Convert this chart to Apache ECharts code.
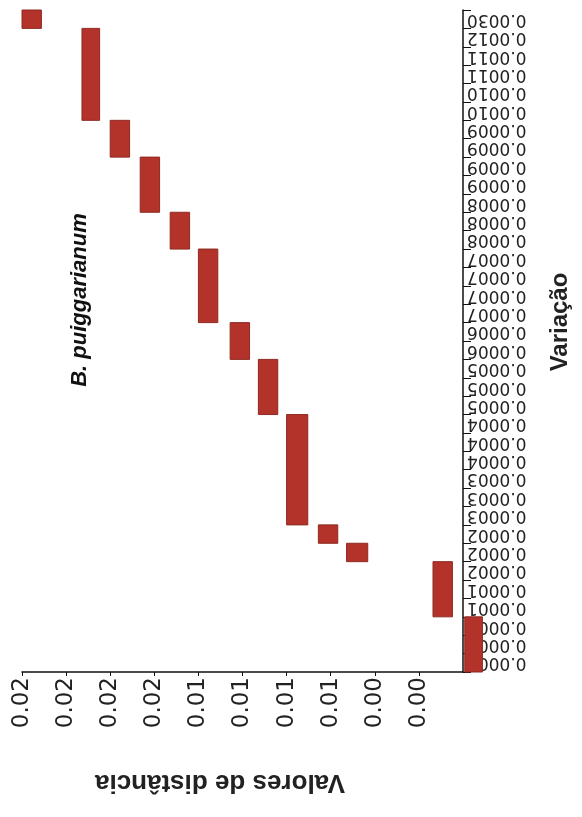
<!DOCTYPE html>
<html>
<head>
<meta charset="utf-8">
<script src="https://cdn.jsdelivr.net/npm/echarts@6/dist/echarts.min.js"></script>
<style>
html,body{margin:0;padding:0;background:#ffffff;}
#chart{width:582px;height:817px;}
</style>
</head>
<body>
<div id="chart"></div>
<script>
// Category axis ("Variação"), bottom to top
const categories = [
  '0.0000','0.0000','0.0001','0.0001','0.0001','0.0002','0.0002','0.0002',
  '0.0003','0.0003','0.0003','0.0004','0.0004','0.0004','0.0005','0.0005',
  '0.0005','0.0006','0.0006','0.0007','0.0007','0.0007','0.0007','0.0008',
  '0.0008','0.0008','0.0009','0.0009','0.0009','0.0009','0.0010','0.0010',
  '0.0011','0.0011','0.0012','0.0030'
];
// Floating bars: first and last category index of each run, and distance range
const segStart = [0, 3, 6, 7, 8, 14, 17, 19, 23, 25, 28, 30, 35];
const segEnd   = [2, 5, 6, 7, 13, 16, 18, 22, 24, 27, 29, 34, 35];
const distLow  = [-0.0011, 0.0006, 0.0054, 0.0071, 0.0088, 0.0105, 0.0121, 0.0139, 0.0155, 0.0172, 0.0189, 0.0206, 0.0239];
const distHigh = [-0.0001, 0.0017, 0.0066, 0.0082, 0.0100, 0.0116, 0.0132, 0.0150, 0.0166, 0.0183, 0.0200, 0.0216, 0.0250];
// Value axis tick labels for ticks 0.0025 ... 0.025
const valueTickLabels = ['0.00','0.00','0.01','0.01','0.01','0.01','0.02','0.02','0.02','0.02'];
const tickStep = 0.0025;

const seriesData = segStart.map((s, i) => [s, segEnd[i], distLow[i], distHigh[i]]);

const chart = echarts.init(document.getElementById('chart'), null, {renderer: 'canvas'});
chart.setOption({
  animation: false,
  backgroundColor: '#ffffff',
  grid: {left: 22, right: 119, top: 10, bottom: 145, containLabel: false, outerBoundsMode: 'none'},
  xAxis: {
    type: 'value',
    inverse: true,
    min: 0,
    max: 0.025,
    interval: tickStep,
    position: 'bottom',
    splitLine: {show: false},
    axisLine: {show: true, lineStyle: {color: '#111', width: 1.5}},
    axisTick: {show: true, length: 4, lineStyle: {color: '#111'}},
    axisLabel: {
      rotate: 90,
      margin: 5,
      showMinLabel: false,
      color: '#222',
      fontFamily: 'DejaVu Sans',
      fontSize: 23,
      formatter: function (v) {
        const k = Math.round(v / tickStep) - 1;
        return k >= 0 && k < valueTickLabels.length ? valueTickLabels[k] : '';
      }
    }
  },
  yAxis: {
    type: 'category',
    data: categories,
    position: 'right',
    boundaryGap: true,
    axisLine: {show: true, lineStyle: {color: '#111', width: 1.5}},
    axisTick: {show: true, length: 8, interval: 0, lineStyle: {color: '#111'}},
    splitLine: {show: false},
    axisLabel: {
      interval: 0,
      rotate: 180,
      margin: 4,
      color: '#222',
      fontFamily: 'DejaVu Sans',
      fontSize: 17
    }
  },
  graphic: [
    {type: 'text', x: 220, y: 782, rotation: Math.PI,
     style: {text: 'Valores de distância', font: 'bold 26px "Liberation Sans", Arial, sans-serif', fill: '#222', textAlign: 'center', textVerticalAlign: 'middle'}},
    {type: 'text', x: 560, y: 322, rotation: Math.PI / 2,
     style: {text: 'Variação', font: 'bold 24px "Liberation Sans", Arial, sans-serif', fill: '#222', textAlign: 'center', textVerticalAlign: 'middle'}},
    {type: 'text', x: 80, y: 300, rotation: Math.PI / 2,
     style: {text: 'B. puiggarianum', font: 'italic bold 22px "Liberation Sans", Arial, sans-serif', fill: '#111', textAlign: 'center', textVerticalAlign: 'middle'}}
  ],
  series: [{
    type: 'custom',
    coordinateSystem: 'cartesian2d',
    encode: {x: [2, 3], y: [0, 1]},
    data: seriesData,
    renderItem: function (params, api) {
      const c0 = api.value(0), c1 = api.value(1);
      const lo = api.value(2), hi = api.value(3);
      const pA = api.coord([lo, c0]);
      const pB = api.coord([hi, c1]);
      const band = api.size([0, 1])[1];
      const x1 = Math.min(pA[0], pB[0]);
      const x2 = Math.max(pA[0], pB[0]);
      const y1 = Math.min(pA[1], pB[1]) - band / 2;
      const y2 = Math.max(pA[1], pB[1]) + band / 2;
      return {
        type: 'rect',
        shape: {x: x1, y: y1, width: x2 - x1, height: y2 - y1},
        style: {fill: '#B3322A', stroke: '#8E2A22', lineWidth: 1}
      };
    }
  }]
});
</script>
</body>
</html>
